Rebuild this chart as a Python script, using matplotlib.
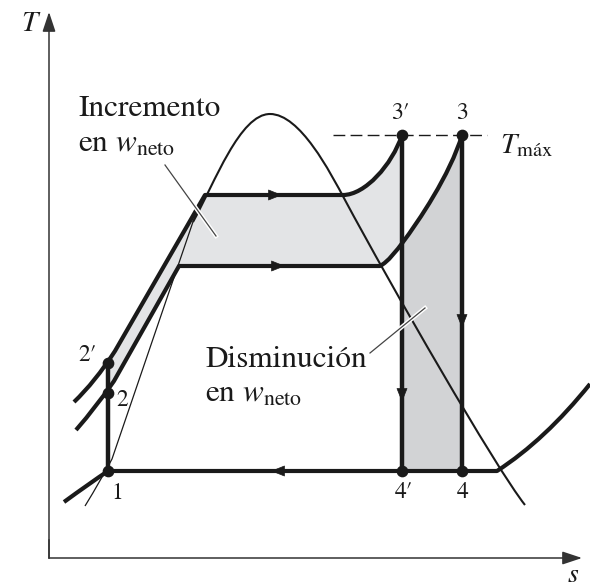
import matplotlib
matplotlib.use('Agg')
import matplotlib.pyplot as plt
import matplotlib.patheffects as pe
from matplotlib.path import Path
from matplotlib.patches import PathPatch

plt.rcParams['font.family'] = 'STIXGeneral'
plt.rcParams['mathtext.fontset'] = 'stix'

M, L, C3, C4, CL = Path.MOVETO, Path.LINETO, Path.CURVE3, Path.CURVE4, Path.CLOSEPOLY

# sketch coordinates: x grows with s, y is measured down the page (T decreases)
# state points
pt_names = ['1', '2', '2′', '3′', '3', '4′', '4']
pt_x = [108, 108, 108, 402, 462, 402, 462]
pt_y = [471, 393, 363, 135, 135, 471, 471]

# saturation dome (bezier control points)
dome_pts = [(193, 222), (215, 182), (240, 114), (270, 114),
            (300, 114), (330, 172), (345, 200),
            (390, 284), (495, 467), (525, 505)]
dome_codes = [M, C4, C4, C4, C4, C4, C4, C4, C4, C4]

# saturated liquid line near state 1
liq_pts = [(85, 506), (101, 480), (112, 459), (196, 213)]
liq_codes = [M, C3, C3, L]

# high pressure isobar 2' -> 3'
hp_pts = [(74, 402), (95, 382), (115, 351), (205, 195), (343, 195),
          (365, 195), (392, 165), (402, 135)]
hp_codes = [M, C3, C3, L, L, C4, C4, C4]

# lower pressure isobar 2 -> 3
lp_pts = [(76, 430), (97, 406), (114, 381), (179, 266), (380, 266),
          (388, 262), (397, 250), (403, 242),
          (418, 222), (450, 175), (462, 135)]
lp_codes = [M, C3, C3, L, L, C4, C4, C4, C4, C4, C4]

# condenser isobar through 1, 4', 4
cond_pts = [(64, 502), (90, 483), (108, 471), (497, 471), (545, 440), (590, 384)]
cond_codes = [M, C3, C3, L, C3, C3]

# shaded areas
gain_pts = [(108, 363), (115, 351), (205, 195), (343, 195),
            (365, 195), (392, 165), (402, 135), (403, 242),
            (397, 250), (388, 262), (380, 266), (179, 266),
            (114, 381), (108, 393), (108, 363)]
gain_codes = [M, L, L, L, C4, C4, C4, L, C4, C4, C4, L, L, L, CL]
loss_pts = [(403, 242), (418, 222), (450, 175), (462, 135),
            (462, 471), (402, 471), (402, 242), (403, 242)]
loss_codes = [M, C4, C4, C4, L, L, L, CL]

t_max_y = 135

fig = plt.figure(figsize=(5.9, 5.87), dpi=100)
ax = fig.add_axes([0, 0, 1, 1])
ax.set_xlim(0, 590)
ax.set_ylim(587, 0)
ax.axis('off')

ink = '#1a1a1a'

ax.add_patch(PathPatch(Path(gain_pts, gain_codes), fc='#e3e4e6', ec='none', zorder=1))
ax.add_patch(PathPatch(Path(loss_pts, loss_codes), fc='#d2d3d5', ec='none', zorder=1))

ax.add_patch(PathPatch(Path(liq_pts, liq_codes), fill=False, ec=ink, lw=0.9, zorder=2))
ax.add_patch(PathPatch(Path(dome_pts, dome_codes), fill=False, ec=ink, lw=1.5, zorder=2))

for pts, codes in [(hp_pts, hp_codes), (lp_pts, lp_codes), (cond_pts, cond_codes)]:
    ax.add_patch(PathPatch(Path(pts, codes), fill=False, ec=ink, lw=3.0,
                           capstyle='butt', joinstyle='round', zorder=3))

# pump and turbines
ax.plot([pt_x[0], pt_x[2]], [pt_y[0], pt_y[2]], color=ink, lw=3.2, zorder=3)
ax.plot([pt_x[3], pt_x[5]], [pt_y[3], pt_y[5]], color=ink, lw=3.2, zorder=3)
ax.plot([pt_x[4], pt_x[6]], [pt_y[4], pt_y[6]], color=ink, lw=3.2, zorder=3)

# T max line
ax.plot([333, 487], [t_max_y, t_max_y], color=ink, lw=1.0,
        linestyle=(0, (8.5, 3.8)), zorder=2)

ax.scatter(pt_x, pt_y, s=55, color=ink, zorder=5)

# flow arrows
head = dict(arrowstyle='-|>,head_length=0.9,head_width=0.36', fc=ink, ec=ink,
            lw=0.5, shrinkA=0, shrinkB=0)
for tip, tail in [((282, 195), (266, 195)), ((285, 266), (269, 266)),
                  ((271, 471), (287, 471)), ((402, 402), (402, 386)),
                  ((462, 328), (462, 312))]:
    ax.annotate('', xy=tip, xytext=tail, arrowprops=head, zorder=6)

# axes
axis_head = dict(arrowstyle='-|>,head_length=1.2,head_width=0.4', fc='#333',
                 ec='#333', lw=1.1, shrinkA=0, shrinkB=0)
ax.annotate('', xy=(49, 12), xytext=(49, 558), arrowprops=axis_head)
ax.annotate('', xy=(582, 558), xytext=(49, 558), arrowprops=axis_head)
ax.plot([49, 49], [558, 540], color='#333', lw=1.1)
ax.text(31, 24, '$T$', fontsize=21, ha='center', va='center', color=ink)
ax.text(573, 575, '$s$', fontsize=20, ha='center', va='center', color=ink)

# state labels
lab_off = [(9, 22), (14, 7), (-20, -8), (-2, -22), (0, -22), (2, 21), (1, 21)]
for name, x, y, (dx, dy) in zip(pt_names, pt_x, pt_y, lab_off):
    ax.text(x + dx, y + dy, name, fontsize=17, ha='center', va='center', color=ink)

ax.text(500, 146, r'$T_{\rm máx}$', fontsize=21, ha='left', va='center', color=ink)

# annotations
ax.text(78, 116, 'Incremento', fontsize=22.5, ha='left', va='baseline', color=ink)
ax.text(78, 152, r'en $w_{\rm neto}$', fontsize=22.5, ha='left', va='baseline', color=ink)
ax.text(205, 367, 'Disminución', fontsize=22.5, ha='left', va='baseline', color=ink)
ax.text(205, 402, r'en $w_{\rm neto}$', fontsize=22.5, ha='left', va='baseline', color=ink)

halo = [pe.withStroke(linewidth=3, foreground='white')]
ax.plot([165, 216], [165, 236], color='#444', lw=0.9, zorder=7, path_effects=halo)
ax.plot([370, 425], [353, 308], color='#444', lw=0.9, zorder=7, path_effects=halo)

plt.savefig('out.png', dpi=100)
plt.close()
